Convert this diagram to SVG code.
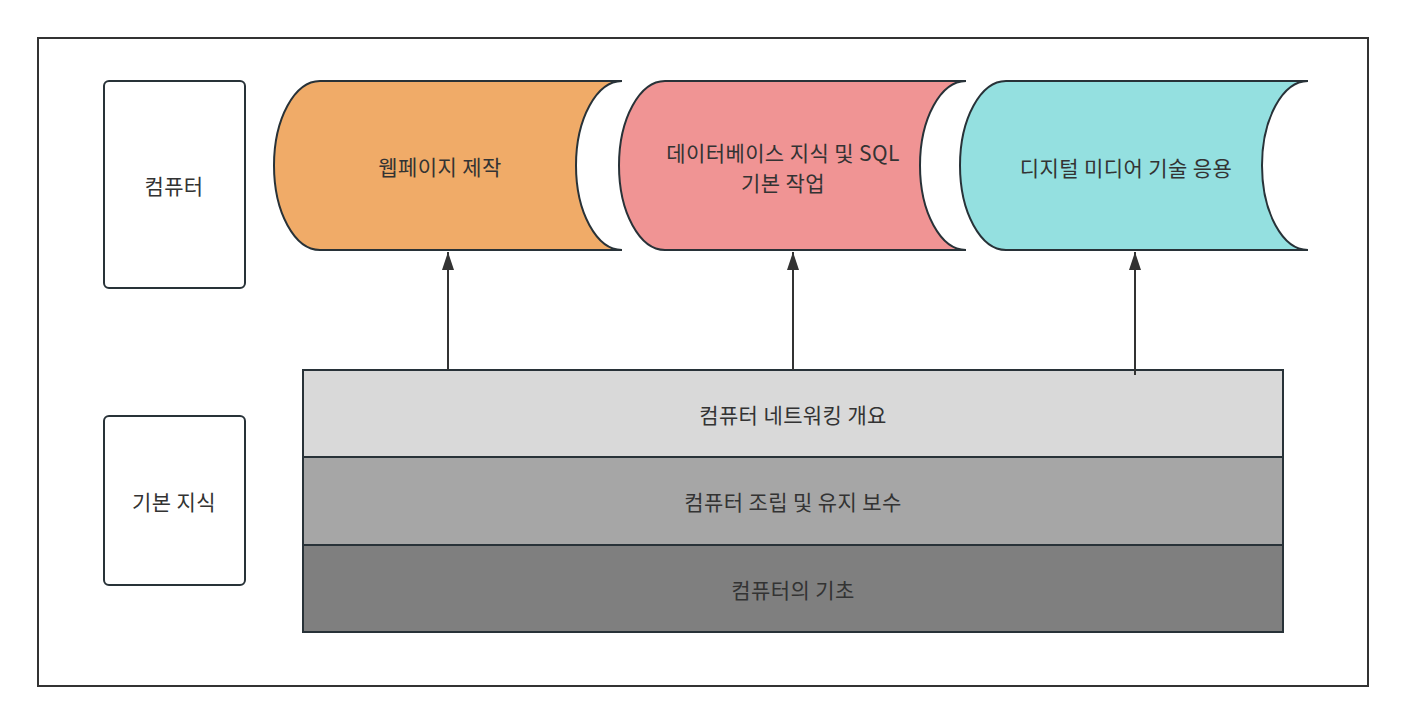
<svg xmlns="http://www.w3.org/2000/svg" width="1405" height="723" viewBox="0 0 1405 723">
<defs>
<style>
.t{font-family:"Noto Sans CJK KR","Noto Sans",sans-serif;font-size:21px;letter-spacing:0.4px;fill:#333333;text-anchor:middle;dominant-baseline:central}
.s{stroke:#283238;stroke-width:2}
.conn{stroke:#333333;stroke-width:2;fill:none}
</style>
<marker id="ah" viewBox="0 0 18 12" refX="18" refY="6" markerWidth="18" markerHeight="12" markerUnits="userSpaceOnUse" orient="auto">
<path d="M0,0 L18,6 L0,12 Z" fill="#333333"/>
</marker>
</defs>
<rect width="1405" height="723" fill="#ffffff"/>
<rect x="38" y="38" width="1330" height="648" fill="none" stroke="#333333" stroke-width="2"/>
<g id="n-computer">
<rect class="s" x="104" y="81" width="141" height="207" rx="5" fill="#ffffff"/>
<text class="t" x="174" y="185">컴퓨터</text>
</g>
<g id="n-basic">
<rect class="s" x="104" y="416" width="141" height="169" rx="5" fill="#ffffff"/>
<text class="t" x="174" y="501">기본 지식</text>
</g>
<g id="n-web">
<path class="s" fill="#F0AB68" d="M320,81 L622,81 A46,84.5 0 0 0 622,250 L320,250 A46,84.5 0 0 1 320,81 Z"/>
<text class="t" x="440" y="166">웹페이지 제작</text>
</g>
<g id="n-db">
<path class="s" fill="#F09494" d="M665,81 L966,81 A46,84.5 0 0 0 966,250 L665,250 A46,84.5 0 0 1 665,81 Z"/>
<text class="t" x="783" y="152">데이터베이스 지식 및 SQL</text>
<text class="t" x="783" y="182">기본 작업</text>
</g>
<g id="n-media">
<path class="s" fill="#94E0E0" d="M1006,81 L1308,81 A46,84.5 0 0 0 1308,250 L1006,250 A46,84.5 0 0 1 1006,81 Z"/>
<text class="t" x="1126" y="167">디지털 미디어 기술 응용</text>
</g>
<g id="n-network">
<rect class="s" x="303" y="370" width="980" height="87" fill="#D9D9D9"/>
<text class="t" x="793" y="414">컴퓨터 네트워킹 개요</text>
</g>
<g id="n-assembly">
<rect class="s" x="303" y="457" width="980" height="88" fill="#A6A6A6"/>
<text class="t" x="793" y="501">컴퓨터 조립 및 유지 보수</text>
</g>
<g id="n-fund">
<rect class="s" x="303" y="545" width="980" height="87" fill="#7F7F7F"/>
<text class="t" x="793" y="589">컴퓨터의 기초</text>
</g>
<g id="connectors">
<line class="conn" x1="448" y1="370" x2="448" y2="252" marker-end="url(#ah)"/>
<line class="conn" x1="793" y1="370" x2="793" y2="252" marker-end="url(#ah)"/>
<line class="conn" x1="1135" y1="375" x2="1135" y2="252" marker-end="url(#ah)"/>
</g>
</svg>
